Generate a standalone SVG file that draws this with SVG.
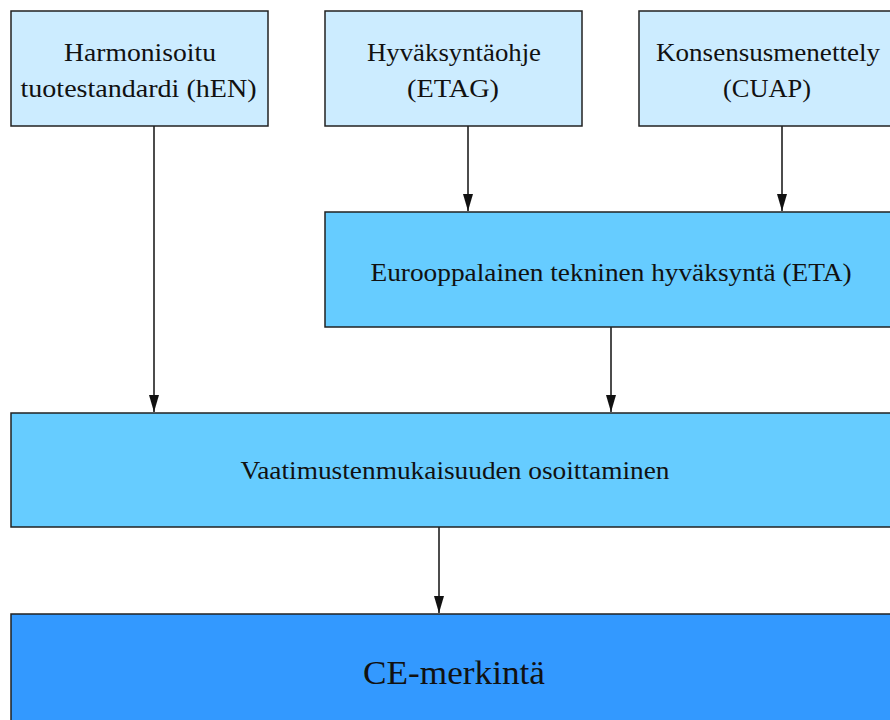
<svg xmlns="http://www.w3.org/2000/svg" width="890" height="720" viewBox="0 0 890 720">
  <style>
    .box { stroke: #222; stroke-width: 1.5; }
    .l1 { fill: #ccecff; }
    .l2 { fill: #66ccff; }
    .l3 { fill: #3399ff; }
    .t { font-family: "Liberation Serif", "DejaVu Serif", serif; font-size: 25px; fill: #111; text-anchor: middle; }
    .big { font-size: 34px; }
    .edge { stroke: #111; stroke-width: 1.5; fill: none; marker-end: url(#arrow); }
  </style>
  <defs>
    <!-- filled arrowhead, tip at the end of the line -->
    <marker id="arrow" markerWidth="17" markerHeight="10" refX="17" refY="5" orient="auto" markerUnits="userSpaceOnUse" viewBox="0 0 17 10">
      <path d="M0,0 L17,5 L0,10 Z" fill="#111"/>
    </marker>
  </defs>
  <rect width="890" height="720" fill="#fff"/>

  <g id="connectors">
    <line class="edge" x1="154" y1="126" x2="154" y2="412"/>
    <line class="edge" x1="468" y1="126" x2="468" y2="211"/>
    <line class="edge" x1="782" y1="126" x2="782" y2="211"/>
    <line class="edge" x1="611" y1="327" x2="611" y2="412"/>
    <line class="edge" x1="439" y1="527" x2="439" y2="613"/>
  </g>

  <g id="hen">
    <rect class="box l1" x="11" y="11" width="257" height="115"/>
    <text class="t" x="140" y="61" textLength="152" lengthAdjust="spacingAndGlyphs">Harmonisoitu</text>
    <text class="t" x="138.5" y="97" textLength="236" lengthAdjust="spacingAndGlyphs">tuotestandardi (hEN)</text>
  </g>

  <g id="etag">
    <rect class="box l1" x="325" y="11" width="257" height="115"/>
    <text class="t" x="454" y="61" textLength="174" lengthAdjust="spacingAndGlyphs">Hyväksyntäohje</text>
    <text class="t" x="453" y="97" textLength="92" lengthAdjust="spacingAndGlyphs">(ETAG)</text>
  </g>

  <g id="cuap">
    <rect class="box l1" x="639" y="11" width="257" height="115"/>
    <text class="t" x="768" y="61" textLength="224" lengthAdjust="spacingAndGlyphs">Konsensusmenettely</text>
    <text class="t" x="767" y="97" textLength="88" lengthAdjust="spacingAndGlyphs">(CUAP)</text>
  </g>

  <g id="eta">
    <rect class="box l2" x="325" y="212" width="572" height="115"/>
    <text class="t" x="611" y="281" textLength="481" lengthAdjust="spacingAndGlyphs">Eurooppalainen tekninen hyväksyntä (ETA)</text>
  </g>

  <g id="vaatimustenmukaisuus">
    <rect class="box l2" x="11" y="413" width="886" height="114"/>
    <text class="t" x="455" y="479" textLength="429" lengthAdjust="spacingAndGlyphs">Vaatimustenmukaisuuden osoittaminen</text>
  </g>

  <g id="ce">
    <rect class="box l3" x="11" y="614" width="886" height="120"/>
    <text class="t big" x="454" y="684" textLength="182" lengthAdjust="spacingAndGlyphs">CE-merkintä</text>
  </g>
</svg>
